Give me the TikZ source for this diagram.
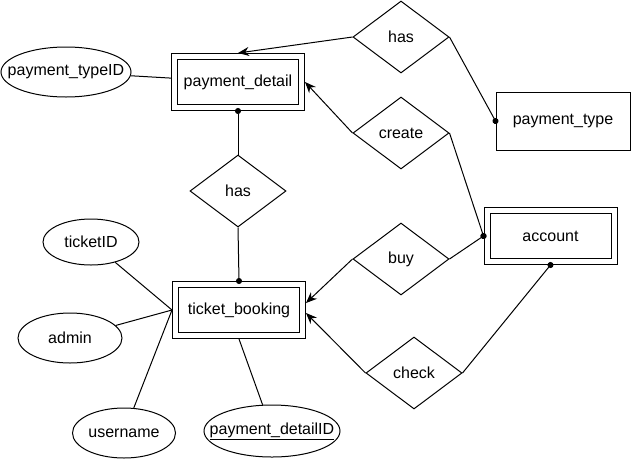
\documentclass[tikz,border=0pt]{standalone}
\usepackage{fontspec}
\setmainfont{Liberation Sans}
\usepackage{tikz}
\usetikzlibrary{shapes.geometric}
\usetikzlibrary{arrows, arrows.meta}

\begin{document}
\begin{tikzpicture}[x=1pt, y=-1pt, line width=1pt, font=\fontsize{16}{19}\selectfont,
    ent/.style={draw, rectangle, minimum width=134pt, minimum height=58pt, inner sep=0pt},
    weak/.style={draw, rectangle, double, double distance=5pt, minimum width=127pt, minimum height=51pt, inner sep=0pt, outer sep=3.5pt},
    rel/.style={draw, diamond, minimum width=96pt, minimum height=72pt, inner sep=0pt},
    attr/.style={draw, ellipse, minimum height=50pt, inner xsep=-20pt, inner ysep=0pt},
    arr/.style={-{Stealth[length=11pt, width=9pt]}},
    dot/.style={-{Circle[length=6pt]}, shorten >=-3pt}]
    \useasboundingbox (0,0) rectangle (631,461);
    \node[weak] (pd) at (238,82) {payment\_detail};
    \node[ent] (ptype) at (563,121) {payment\_type};
    \node[weak] (acc) at (550.5,236) {account};
    \node[weak] (tb) at (239,310) {ticket\_booking};
    \node[rel] (hasT) at (401,37) {has};
    \node[rel] (create) at (401,133) {create};
    \node[rel] (hasM) at (238,191) {has};
    \node[rel] (buy) at (401,259) {buy};
    \node[rel] (check) at (414,373) {check};
    \node[attr, minimum width=130pt] (pti) at (66,72) {payment\_typeID};
    \node[attr, minimum width=96pt, minimum height=46pt] (tid) at (91,242) {ticketID};
    \node[attr, minimum width=104pt] (adm) at (70,338) {admin};
    \node[attr, minimum width=103pt] (usr) at (124,433) {username};
    \node[attr, minimum width=136pt, minimum height=52pt] (pdid) at (272,431) {\underline{payment\_detailID}};
    \draw (pti) -- (pd);
    \draw[arr] (hasT.west) -- (pd.north);
    \draw[dot] (hasT.east) -- (ptype.west);
    \draw[arr] (create.west) -- (pd.east);
    \draw[dot] (create.east) -- (acc.west);
    \draw[dot] (hasM.north) -- (pd.south);
    \draw[dot] (hasM.south) -- (tb.north);
    \draw (tid) -- (tb.west);
    \draw (adm) -- (tb.west);
    \draw (usr) -- (tb.west);
    \draw (tb.south) -- (pdid);
    \draw[arr] (buy.west) -- ([yshift=7pt]tb.east);
    \draw[dot] (buy.east) -- (acc.west);
    \draw[arr] (check.west) -- ([yshift=-3pt]tb.east);
    \draw[dot] (check.east) -- (acc.south);
\end{tikzpicture}
\end{document}
